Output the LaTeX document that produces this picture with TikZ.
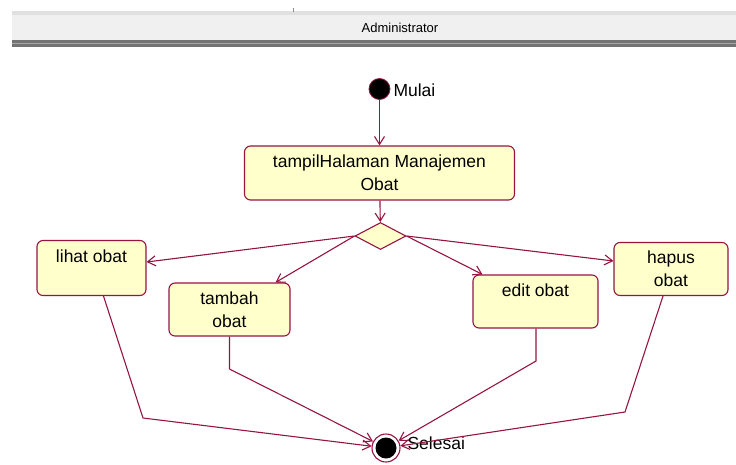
\documentclass[tikz,border=0pt]{standalone}
\usepackage{fontspec}
\setmainfont{Liberation Sans}
\usetikzlibrary{arrows.meta,shapes.geometric,calc}
\definecolor{uml}{RGB}{150,20,66}
\definecolor{actfill}{RGB}{255,255,204}
\begin{document}
\begin{tikzpicture}[x=1pt,y=-1pt,
  every node/.style={font=\fontsize{17.5}{23}\selectfont},
  activity/.style={draw=uml, fill=actfill, line width=1.1pt, rounded corners=6pt,
                   align=center, inner sep=0pt},
  flow/.style={draw=uml, line width=1.1pt, -{Straight Barb[length=8pt,width=10pt]}}]
\useasboundingbox (0,0) rectangle (736,464);

% swimlane header
\fill[black!12] (12,11) rectangle (736,15);
\fill[black!6] (12,15) rectangle (736,40);
\fill[black!55] (12,40) rectangle (736,47);
\fill[black!35] (12,43) rectangle (736,44);
\draw[black!45] (293,8) -- (293,12);
\node[font=\fontsize{13}{15}\selectfont] (lane) at (400,28) {Administrator};

% initial node
\node[circle, fill=black, draw=uml, line width=0.8pt, minimum size=21pt, inner sep=0pt] (start) at (379.5,89) {};
\node[anchor=west] (mulai) at (390,90) {Mulai};

% activities
\node[activity, minimum width=270pt, minimum height=54pt] (tampil) at (379.5,173)
  {tampilHalaman Manajemen\\Obat};
\node[diamond, draw=uml, fill=actfill, line width=1.1pt, inner sep=0pt,
      minimum width=51pt, minimum height=27pt] (choice) at (380.5,236) {};

\node[activity, minimum width=109pt, minimum height=55pt] (lihat) at (91.5,268)
  {lihat obat\\\mbox{}};
\node[activity, minimum width=121pt, minimum height=53pt] (tambah) at (229.5,309.5)
  {tambah\\obat};
\node[activity, minimum width=125pt, minimum height=53pt] (edit) at (535.5,301.5)
  {edit obat\\\mbox{}};
\node[activity, minimum width=114pt, minimum height=53pt] (hapus) at (671,269)
  {hapus\\obat};

% final node
\node[circle, draw=uml, fill=white, line width=1.1pt, minimum size=28pt, inner sep=0pt] (stop) at (386,448) {};
\node[circle, fill=black, minimum size=21pt, inner sep=0pt] (stopdot) at (stop) {};
\node[anchor=west] (selesai) at (404,443) {Selesai};

% bend points of the joining flows
\coordinate (b1) at (143,418);
\coordinate (b2) at (229.5,369);
\coordinate (b3) at (536,361);
\coordinate (b4) at (625,412);

% control flows
\draw[flow] (start) -- (tampil);
\draw[flow] (tampil) -- (choice);
\draw[flow] (choice.west) -- ($(lihat.east)+(0,-6)$);
\draw[flow] (choice.west) -- ($(tambah.north)+(46,0)$);
\draw[flow] (choice.east) -- ($(edit.north)+(-53,0)$);
\draw[flow] (choice.east) -- ($(hapus.west)+(0,-8)$);

\draw[flow] ($(lihat.south)+(12,0)$) -- (b1) -- (stop);
\draw[flow] (tambah.south) -- (b2) -- (stop);
\draw[flow] ($(edit.south)+(0.5,0)$) -- (b3) -- (stop);
\draw[flow] ($(hapus.south)+(-8,0)$) -- (b4) -- (stop);
\end{tikzpicture}
\end{document}
